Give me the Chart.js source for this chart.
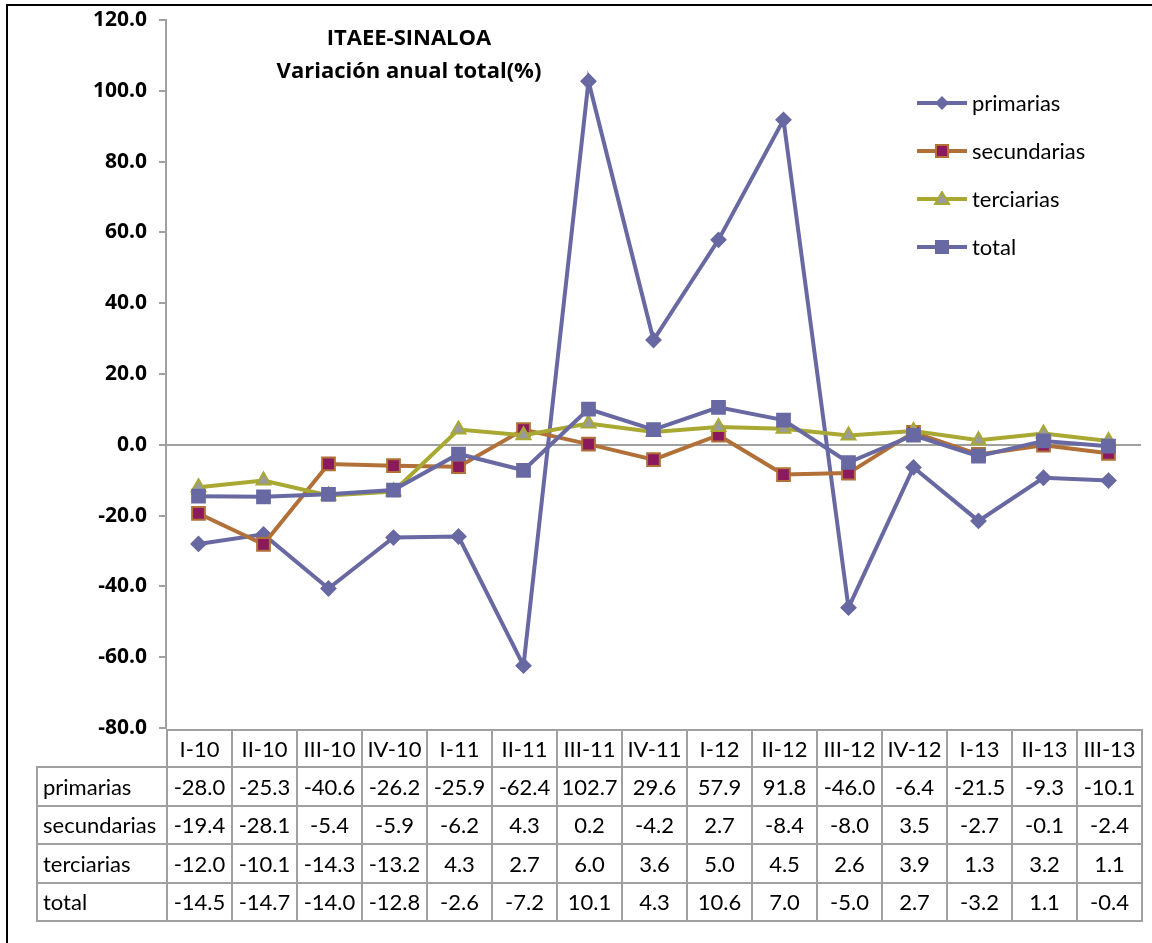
<!DOCTYPE html>
<html>
<head>
<meta charset="utf-8">
<script src="https://cdn.jsdelivr.net/npm/chart.js@4.4.0/dist/chart.umd.min.js"></script>
<style>
  html, body { margin: 0; padding: 0; background: #fff; }
  body { width: 1152px; height: 943px; position: relative; overflow: hidden; font-family: Lato, "Open Sans", sans-serif; }
  #frame { position: absolute; left: 6px; top: 4px; width: 1200px; height: 1000px; border: 2px solid #000; box-sizing: border-box; }
  #wrap { position: absolute; left: 0; top: 0; width: 1152px; height: 943px; }
  #title { position: absolute; left: 259px; top: 20px; width: 300px; text-align: center; font-family: "Open Sans", sans-serif; font-weight: bold; font-size: 22px; line-height: 33px; color: #000; }
  #legend { position: absolute; left: 917px; top: 89px; }
  .leg { height: 48px; display: flex; align-items: flex-start; font-size: 22px; color: #000; }
  .leg svg { margin-top: 6px; margin-right: 5px; }
  #tbl { position: absolute; border-collapse: collapse; table-layout: fixed; font-size: 22px; color: #000; }
  #tbl td { border: 2px solid #a0a0a0; padding: 0; text-align: center; white-space: nowrap; overflow: hidden; }
  #tbl td.lab { text-align: left; padding-left: 5px; }
  #tbl td.blank { border-top: none; border-left: none; }
</style>
</head>
<body>
<div id="frame"></div>
<div id="wrap"><canvas id="c" width="1152" height="943"></canvas></div>
<div id="title">ITAEE-SINALOA<br>Variación anual total(%)</div>
<div id="legend"></div>
<table id="tbl"></table>
<script>
// datos
const labels = ['I-10', 'II-10', 'III-10', 'IV-10', 'I-11', 'II-11', 'III-11', 'IV-11', 'I-12', 'II-12', 'III-12', 'IV-12', 'I-13', 'II-13', 'III-13'];
const primarias = [-28.0, -25.3, -40.6, -26.2, -25.9, -62.4, 102.7, 29.6, 57.9, 91.8, -46.0, -6.4, -21.5, -9.3, -10.1];
const secundarias = [-19.4, -28.1, -5.4, -5.9, -6.2, 4.3, 0.2, -4.2, 2.7, -8.4, -8.0, 3.5, -2.7, -0.1, -2.4];
const terciarias = [-12.0, -10.1, -14.3, -13.2, 4.3, 2.7, 6.0, 3.6, 5.0, 4.5, 2.6, 3.9, 1.3, 3.2, 1.1];
const total = [-14.5, -14.7, -14.0, -12.8, -2.6, -7.2, 10.1, 4.3, 10.6, 7.0, -5.0, 2.7, -3.2, 1.1, -0.4];

const series = [
    { name: 'primarias', data: primarias, line: '#6868a2', fill: '#6868a2', edge: '#6868a2', style: 'rectRot', radius: 7, order: 3 },
    { name: 'secundarias', data: secundarias, line: '#b07038', fill: '#8a1a5c', edge: '#b07038', style: 'rect', radius: 9, order: 2 },
    { name: 'terciarias', data: terciarias, line: '#a8a832', fill: '#9a9a9a', edge: '#a8a832', style: 'triangle', radius: 8, order: 1 },
    { name: 'total', data: total, line: '#6868a2', fill: '#6868a2', edge: '#6868a2', style: 'rect', radius: 9, order: 0 }
];

const chart = new Chart(document.getElementById('c'), {
    type: 'line',
    data: {
        labels: labels,
        datasets: series.map(s => ({
            label: s.name,
            data: s.data,
            borderColor: s.line,
            borderWidth: 4,
            tension: 0,
            pointStyle: s.style,
            pointRadius: s.radius,
            pointBackgroundColor: s.fill,
            pointBorderColor: s.edge,
            pointBorderWidth: 2,
            order: s.order
        }))
    },
    options: {
        responsive: false,
        animation: false,
        layout: { padding: { left: 6, right: 4, top: 20, bottom: 215 } },
        plugins: { legend: { display: false }, title: { display: false }, tooltip: { enabled: false } },
        scales: {
            x: { display: false, offset: true },
            y: {
                min: -80,
                max: 120,
                afterFit: scale => {
                    scale.width = 160;
                    scale.paddingTop = 0;
                    scale.paddingBottom = 0;
                },
                ticks: {
                    stepSize: 20,
                    padding: 12,
                    color: '#000',
                    font: { family: 'Open Sans', size: 21, weight: 'bold' },
                    callback: v => v.toFixed(1)
                },
                grid: {
                    color: ctx => (ctx.tick && ctx.tick.value === 0) ? '#a0a0a0' : 'rgba(0,0,0,0)',
                    tickColor: '#a0a0a0',
                    tickLength: 7,
                    lineWidth: 2
                },
                border: { display: true, color: '#a0a0a0', width: 2 }
            }
        }
    }
});

// leyenda
function sample(s) {
    const c = 25, m = 8;
    let mk = '';
    if (s.style === 'rectRot') mk = `<polygon points="${c},${m - 7} ${c + 7},${m} ${c},${m + 7} ${c - 7},${m}" fill="${s.fill}"/>`;
    else if (s.style === 'triangle') mk = `<polygon points="${c},${m - 7} ${c + 7},${m + 5} ${c - 7},${m + 5}" fill="${s.fill}" stroke="${s.edge}" stroke-width="2"/>`;
    else mk = `<rect x="${c - 6}" y="${m - 6}" width="12" height="12" fill="${s.fill}" stroke="${s.edge}" stroke-width="2"/>`;
    return `<svg width="50" height="16"><line x1="0" y1="${m}" x2="50" y2="${m}" stroke="${s.line}" stroke-width="4"/>${mk}</svg>`;
}
document.getElementById('legend').innerHTML = series.map(s => `<div class="leg">${sample(s)}<span>${s.name}</span></div>`).join('');

// tabla de datos
const area = chart.chartArea;
const colW = (area.right - area.left) / labels.length;
const labW = area.left - 36;
const tbl = document.getElementById('tbl');
tbl.style.left = '36px';
tbl.style.top = (area.bottom + 1) + 'px';
tbl.style.width = (labW + colW * labels.length) + 'px';
let html = `<colgroup><col style="width:${labW}px">` + labels.map(() => `<col style="width:${colW}px">`).join('') + '</colgroup>';
html += '<tr style="height:37px"><td class="blank"></td>' + labels.map(l => `<td>${l}</td>`).join('') + '</tr>';
series.forEach(s => {
    html += `<tr style="height:38.5px"><td class="lab">${s.name}</td>` + s.data.map(v => `<td>${v.toFixed(1)}</td>`).join('') + '</tr>';
});
tbl.innerHTML = html;
</script>
</body>
</html>
